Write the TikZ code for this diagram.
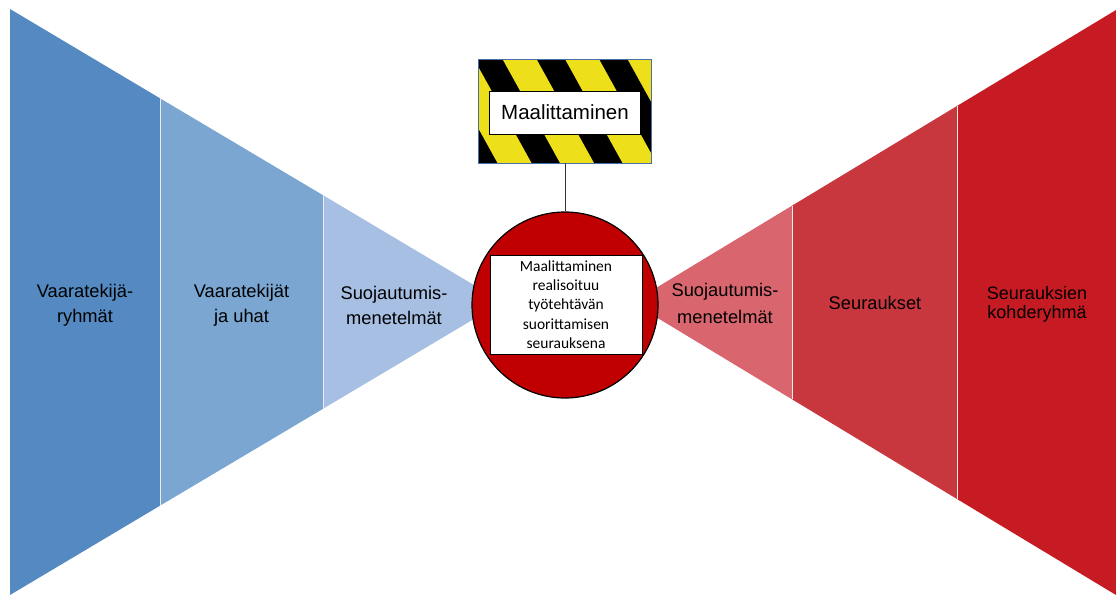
\documentclass[tikz,border=0pt]{standalone}
\usepackage{fontspec}
\setmainfont{Liberation Sans}
\newfontfamily\calibri{Carlito}
\usepackage{tikz}
\usetikzlibrary{positioning}

\definecolor{blueA}{HTML}{548AC1}
\definecolor{blueB}{HTML}{7AA6D1}
\definecolor{blueC}{HTML}{A6BFE3}
\definecolor{redA}{HTML}{C61B22}
\definecolor{redB}{HTML}{C8363E}
\definecolor{redC}{HTML}{D9666E}
\definecolor{eventred}{HTML}{C00000}
\definecolor{hazardyellow}{HTML}{EDE01A}
\definecolor{signblue}{HTML}{4A6FA8}

\tikzset{
  wedgelabel/.style={align=center, font=\fontsize{18.3}{25}\selectfont},
  divider/.style={draw=white!85!gray, line width=0.9pt},
}

\begin{document}
\begin{tikzpicture}[x=1pt, y=-1pt]
\useasboundingbox (0,0) rectangle (1116,596);

% Left wedge
\fill[blueA] (10,9) -- (160,98.3) -- (160,505.7) -- (10,595) -- cycle;
\fill[blueB] (160,98.3) -- (323,195.2) -- (323,408.8) -- (160,505.7) -- cycle;
\fill[blueC] (323,195.2) -- (502.5,302) -- (323,408.8) -- cycle;
\draw[divider] (160,98.3) -- (160,505.7);
\draw[divider] (323,195.2) -- (323,408.8);

% Right wedge
\fill[redA] (1116,10) -- (957,106) -- (957,499) -- (1116,595) -- cycle;
\fill[redB] (957,106) -- (792,205.7) -- (792,399.3) -- (957,499) -- cycle;
\fill[redC] (792,205.7) -- (632,302.5) -- (792,399.3) -- cycle;
\draw[divider] (957,106) -- (957,499);
\draw[divider] (792,205.7) -- (792,399.3);

% Hazard sign
\node[fill=black, minimum width=173pt, minimum height=103pt, inner sep=0pt] (sign) at (565,111.5) {};
\begin{scope}
\clip (sign.south west) rectangle (sign.north east);
\foreach \i in {-1,...,3}
  \fill[hazardyellow] ({440.5+62.5*\i},60) -- ++(34,0) -- ++(57,103) -- ++(-34,0) -- cycle;
\end{scope}
\draw[signblue, line width=0.9pt] (sign.south west) rectangle (sign.north east);
\node[draw, fill=white, minimum width=151pt, minimum height=43pt, inner sep=0pt,
  font=\fontsize{20.5}{24}\selectfont] (title) at (565,112.5) {Maalittaminen};

% Event circle
\node[circle, draw, line width=1.2pt, fill=eventred, minimum size=186pt] (risk) at (565,305) {};
\node[draw, fill=white, minimum width=152pt, minimum height=99pt, inner sep=1pt, align=center,
  font=\calibri\fontsize{15.5}{19.3}\selectfont] (event) at (566,304.5)
  {Maalittaminen\\realisoituu\\työtehtävän\\suorittamisen\\seurauksena};
\draw[black!80, line width=0.7pt] (sign) -- (risk);

% Labels
\node[wedgelabel] (groups) at (85,305.5) {Vaaratekijä-\\ryhmät};
\node[wedgelabel] (threats) at (241.5,305.5) {Vaaratekijät\\ja uhat};
\node[wedgelabel] (prevent) at (394,305.5) {Suojautumis-\\menetelmät};
\node[wedgelabel, font=\fontsize{18.3}{27}\selectfont] (mitigate) at (725,303.5) {Suojautumis-\\menetelmät};
\node[wedgelabel] (effects) at (875,303) {Seuraukset};
\node[wedgelabel, font=\fontsize{18}{19}\selectfont] (targets) at (1037,304) {Seurauksien\\kohderyhmä};

\end{tikzpicture}
\end{document}
